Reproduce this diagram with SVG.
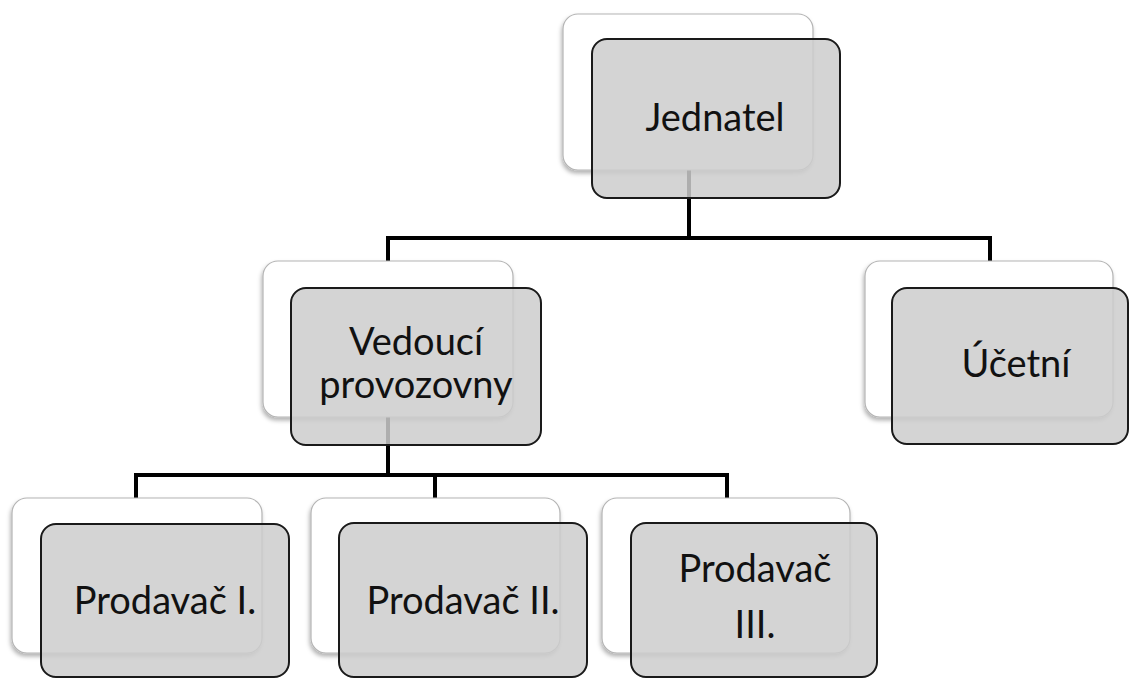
<svg xmlns="http://www.w3.org/2000/svg" width="1130" height="678" viewBox="0 0 1130 678">
<defs>
<filter id="sh" x="-10%" y="-10%" width="120%" height="125%">
<feDropShadow dx="-1" dy="3" stdDeviation="2" flood-color="#000" flood-opacity="0.3"/>
</filter>
<style>
.back{fill:#ffffff;stroke:#b4b4b4;stroke-width:1.2;filter:url(#sh)}
.front{fill:#cccccc;fill-opacity:0.85;stroke:#1a1a1a;stroke-width:2}
.lbl{font-family:Lato,"Open Sans","Liberation Sans",sans-serif;font-size:38px;fill:#111;text-anchor:middle}
.conn{fill:none;stroke:#000;stroke-width:4;stroke-linejoin:miter}
</style>
</defs>
<rect width="1130" height="678" fill="#fff"/>
<g id="connectors">
<path class="conn" d="M689 170 V238 M388 262 V238 H990 V262"/>
<path class="conn" d="M388 417 V475 M136 498 V475 H727 V498 M435 475 V498"/>
</g>
<g id="jednatel">
<rect class="back" x="563" y="14" width="250" height="156" rx="15"/>
<rect class="front" x="592" y="39" width="248" height="159" rx="15"/>
<text class="lbl" x="715" y="131">Jednatel</text>
</g>
<g id="vedouci">
<rect class="back" x="263" y="261" width="250" height="156" rx="15"/>
<rect class="front" x="291" y="288" width="250" height="157" rx="15"/>
<text class="lbl" x="416" y="355">Vedoucí</text>
<text class="lbl" x="416" y="398">provozovny</text>
</g>
<g id="ucetni">
<rect class="back" x="865" y="261" width="248" height="156" rx="15"/>
<rect class="front" x="892" y="288" width="236" height="156" rx="15"/>
<text class="lbl" x="1016" y="377">Účetní</text>
</g>
<g id="prodavac1">
<rect class="back" x="12" y="498" width="250" height="155" rx="15"/>
<rect class="front" x="41" y="524" width="248" height="153" rx="15"/>
<text class="lbl" x="165" y="614">Prodavač I.</text>
</g>
<g id="prodavac2">
<rect class="back" x="311" y="498" width="249" height="155" rx="15"/>
<rect class="front" x="339" y="523" width="248" height="154" rx="15"/>
<text class="lbl" x="463" y="614">Prodavač II.</text>
</g>
<g id="prodavac3">
<rect class="back" x="602" y="498" width="248" height="155" rx="15"/>
<rect class="front" x="631" y="523" width="246" height="154" rx="15"/>
<text class="lbl" x="755" y="582">Prodavač</text>
<text class="lbl" x="755" y="638">III.</text>
</g>
</svg>
